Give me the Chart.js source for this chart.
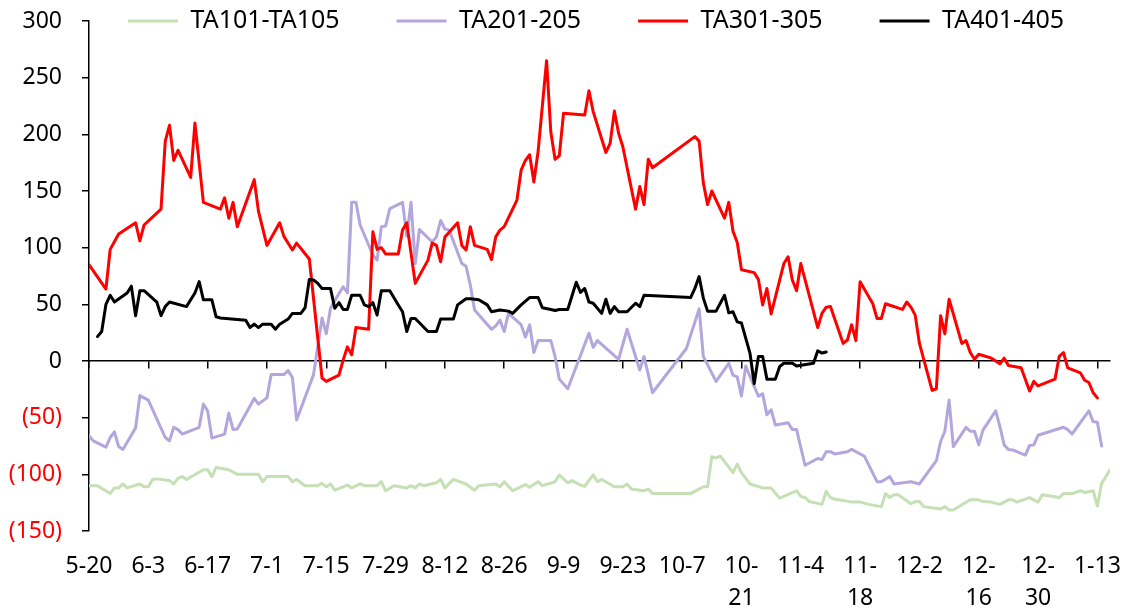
<!DOCTYPE html>
<html>
<head>
<meta charset="utf-8">
<script src="https://cdn.jsdelivr.net/npm/chart.js@4.4.1/dist/chart.umd.min.js"></script>
<style>
html,body{margin:0;padding:0;background:#ffffff;}
canvas{display:block;}
</style>
</head>
<body>
<canvas id="c" width="1141" height="608"></canvas>
<script>
// ---------- DATA (x = days after 5-20 on the seasonal axis) ----------
const xTickLabels = ['5-20','6-3','6-17','7-1','7-15','7-29','8-12','8-26','9-9','9-23','10-7','10-21','11-4','11-18','12-2','12-16','12-30','1-13'];
const tickStepDays = 14;
const lastDay = 241;

const seriesNames = ['TA101-TA105','TA201-205','TA301-305','TA401-405'];

const ta101Days = [0,2,5,6,7,8,9,12,13,14,15,16,19,20,21,22,23,27,28,29,30,33,35,40,41,42,47,48,49,51,54,55,56,57,58,61,62,64,65,68,69,70,72,75,76,77,78,79,82,83,84,86,89,91,92,96,97,98,100,103,104,106,107,110,111,113,114,116,117,119,120,121,124,126,127,128,131,132,133,142,145,146,147,148,149,152,153,154,156,159,161,163,167,168,169,170,173,174,175,176,178,180,182,184,187,188,189,190,191,194,195,196,197,201,202,203,204,208,210,211,213,215,217,218,219,222,224,225,229,230,232,234,235,237,238,239,241];
const ta101Vals = [-110,-110,-117,-112,-112,-108.5,-112,-108.5,-111,-111,-104.5,-104,-105.5,-108.5,-103.5,-102,-104.5,-96,-96,-102,-94,-96,-100,-100,-106.5,-102,-102,-106.5,-104.5,-110,-110,-108,-111,-108.5,-114,-109.5,-112,-108.5,-110,-110,-106.5,-114.5,-110,-112,-110,-112,-108.5,-110,-107.5,-104.5,-112,-104.5,-108.5,-114,-110,-108.5,-111,-106.5,-114.5,-109,-111.5,-106.5,-110,-106.5,-100.5,-107.5,-105.5,-109.5,-110.5,-100.5,-106.5,-104.5,-111,-111,-108.5,-113,-114.5,-113,-117,-117,-111,-111,-84.5,-85.5,-84,-98.5,-91,-98.5,-108.5,-112,-112,-121,-114.5,-119.5,-120.5,-124,-126.5,-115,-120.5,-122,-123,-124.5,-124.5,-126.5,-128.5,-117,-120.5,-118,-118,-126,-124,-124,-128.5,-130.5,-128.5,-131.5,-131.5,-122.5,-122.5,-124,-124.5,-126.5,-122.5,-122.5,-124.5,-120.5,-124.5,-118,-120.5,-117,-117,-114.5,-116,-114.5,-128,-108,-96];

const ta201Days = [0,1,4,5,6,7,8,11,12,14,18,19,20,21,22,26,27,28,29,32,33,34,35,39,40,42,43,46,47,48,49,53,55,56,57,59,60,61,62,63,64,67,68,69,70,71,74,75,76,77,78,81,82,83,84,85,88,89,90,91,95,96,97,98,99,102,103,104,105,106,109,110,111,113,118,119,120,125,127,130,131,133,141,144,145,148,151,152,153,154,155,157,158,159,160,161,162,165,166,167,169,172,173,174,175,176,179,180,183,186,187,189,190,194,196,200,201,202,203,204,207,208,209,210,211,214,215,216,217,218,221,222,223,224,230,231,232,236,237,238,239];
const ta201Vals = [-66,-70.5,-76,-67.5,-62.5,-75.5,-78,-59,-30.5,-34.5,-67.5,-70.5,-58.5,-60.5,-64.5,-58.5,-38,-44,-68,-64.5,-46,-60.5,-60,-33,-38,-32.5,-12,-12,-8.5,-14.5,-52,-12,38,24,46.5,59.5,65.5,60,140,140,120,93.5,89,118.5,119,134.5,140,110,140,86,116,105,109.5,124,116.5,115.5,86,83.5,67,45,28,31,36,26,42,32,21,32,7.5,18,18,4,-16,-24.5,24.5,12,18,1.5,28,-8,4,-28,11,46,4,-18,-2,-12.5,-14,-31,-4.5,-22.5,-31,-29,-47.5,-43,-56.5,-54.5,-60.5,-60.5,-92,-86,-87,-80,-80,-82,-80,-78,-84,-106.5,-106.5,-102,-108.5,-106.5,-108.5,-88,-71,-62,-34.5,-75.5,-58.5,-62,-62,-74,-61,-44,-58,-74,-78,-78.5,-83,-74.5,-74,-65.5,-58.5,-60.5,-64.5,-44,-53.5,-54,-75];

const ta301Days = [0,4,5,7,11,12,13,17,18,19,20,21,24,25,27,31,32,33,34,35,39,40,42,45,46,48,49,52,55,56,59,60,61,62,63,66,67,68,69,70,73,74,75,77,80,81,82,83,84,87,88,89,90,91,94,95,96,97,98,101,102,103,104,105,106,108,109,110,111,112,117,118,119,122,123,124,125,126,129,130,131,132,133,143,144,145,146,147,150,151,152,153,154,157,158,159,160,161,164,165,166,167,168,172,173,174,175,178,179,180,181,182,185,186,187,188,192,193,194,195,196,199,200,201,202,203,206,207,208,209,210,213,215,216,217,220,222,223,224,228,229,230,231,234,235,236,237,238];
const ta301Vals = [85,63.5,98.5,112,122,106,120,134,194,208,177,186,162,210,140,134,144,126,140,118.5,160,132,102,122,110,98,104,90,-15,-18,-12.5,1,12.5,5.5,29.5,28,114,98.5,100,94.5,94.5,115.5,122,68.5,89,104,102,87.5,109.5,122,102,98,118.5,102,98.5,89.5,109.5,115.5,118.5,142,168.5,177,182,158,185,265,202,178,181,218.5,217,238.5,220,184,192,220.5,201,189,134,154,138,178,170.5,198,194,157,138,150,126,140,114.5,104.5,80.5,78,72,49.5,64,41.5,86,92,71.5,62,86,29.5,42,47.5,48,15.5,18.5,32,18,70,50.5,37.5,37.5,50.5,45.5,52,47.5,40.5,15.5,-26,-24.5,40,24,54.5,15.5,18,7.5,1.5,6,2.5,-2.5,2.5,-4,-6,-26.5,-18,-22,-16,4,7.5,-6,-10.5,-17,-19,-28,-32.5];

const ta401Days = [2,3,4,5,6,9,10,11,12,13,16,17,18,19,23,25,26,27,29,30,31,37,38,39,40,41,43,44,45,47,48,50,51,52,53,54,55,57,58,59,60,61,62,64,65,66,67,68,69,71,73,74,75,76,77,80,82,83,86,87,89,90,92,94,95,97,99,100,102,104,106,107,109,110,111,113,115,116,117,118,119,121,122,123,124,125,127,129,130,131,142,143,144,145,146,148,150,151,152,153,154,156,157,158,159,160,162,163,164,166,167,171,172,173,174];
const ta401Vals = [21.5,26,50,58,52,60,66,40,62,62,52,40,48,52,48,60,70,54,54,39,38,36,29.5,32.5,29.5,32.5,32.5,28,32.5,37,42,42,47,72,71.5,68.5,64,64,46.5,51.5,45.5,45.5,58,58,49.5,48,51.5,40.5,62,62,49.5,43.5,26,37.5,37.5,26,26,37,37,49.5,55,55,54,49.5,43.5,45,44,42,49.5,56,56,47,45.5,44.5,45.5,45.5,69.5,60.5,64,52,51,42,54.5,42,48,43.5,43.5,51,48,58,56,64,74.5,55.5,44,44,58,42.5,43.5,34.5,33.5,7,-20,4,4,-16,-16,-5,-2,-2,-4.5,-2,9,7,8];

const yMin = -150, yMax = 300, yStep = 50;

// ---------- CHART ----------
const toPoints = (days, vals) => days.map((d, i) => ({ x: d, y: vals[i] }));

Chart.defaults.font.family = "'Noto Sans', 'Open Sans', sans-serif";
Chart.defaults.color = '#000000';

const TICK_FONT = 23;
const LEGEND_FONT = 25;
const LEGEND_PAD = 57;
const LEGEND_START_X = 128;

const xTicksFromLabels = (scale) => {
  scale.ticks = xTickLabels.map((_, i) => ({ value: i * tickStepDays }));
};

const legendOverlay = {
  id: 'legendOverlay',
  afterLayout(chart) {
    const lg = chart.legend;
    if (!lg) return;
    const centerY = chart.scales.y.getPixelForValue(yMax);
    const top = centerY - LEGEND_PAD - LEGEND_FONT / 2;
    lg.top = top;
    lg.bottom = top + LEGEND_PAD * 2 + LEGEND_FONT;
    lg.height = lg.bottom - lg.top;
    lg.left = LEGEND_START_X - LEGEND_PAD;
    lg.right = chart.width;
    lg.width = lg.right - lg.left;
  }
};

const mkSet = (label, days, vals, color, order) => ({
  label,
  data: toPoints(days, vals),
  borderColor: color,
  backgroundColor: color,
  borderWidth: 3,
  pointRadius: 0,
  pointHoverRadius: 0,
  tension: 0,
  fill: false,
  borderJoinStyle: 'round',
  borderCapStyle: 'round',
  xAxisID: 'x',
  yAxisID: 'y',
  order
});

new Chart(document.getElementById('c'), {
  type: 'line',
  data: {
    datasets: [
      mkSet(seriesNames[0], ta101Days, ta101Vals, '#c5e0b4', 3),
      mkSet(seriesNames[1], ta201Days, ta201Vals, '#b3a6dd', 2),
      mkSet(seriesNames[2], ta301Days, ta301Vals, '#ff0000', 1),
      mkSet(seriesNames[3], ta401Days, ta401Vals, '#000000', 0)
    ]
  },
  options: {
    responsive: false,
    animation: false,
    devicePixelRatio: 1,
    layout: { padding: { left: 0, right: 15, top: 21, bottom: 0 } },
    plugins: {
      tooltip: { enabled: false },
      legend: {
        display: true,
        position: 'top',
        align: 'start',
        maxHeight: 0.001,
        labels: {
          boxWidth: 50,
          boxHeight: 3,
          padding: LEGEND_PAD,
          color: '#000000',
          font: { size: LEGEND_FONT },
          sort: (a, b) => a.datasetIndex - b.datasetIndex,
          generateLabels: (chart) =>
            Chart.defaults.plugins.legend.labels.generateLabels(chart).map(l => ({ ...l, lineWidth: 0 }))
        }
      }
    },
    scales: {
      x: {
        type: 'linear',
        axis: 'x',
        position: 'bottom',
        min: 0,
        max: lastDay,
        afterBuildTicks: xTicksFromLabels,
        afterFit: (s) => { s.height = 77; },
        grid: { display: false, drawTicks: false, drawOnChartArea: false },
        border: { display: false },
        ticks: {
          autoSkip: false,
          maxRotation: 0,
          minRotation: 0,
          padding: 20,
          color: '#000000',
          font: { size: TICK_FONT, lineHeight: 1.38 },
          callback: (v) => {
            const lbl = xTickLabels[Math.round(v / tickStepDays)];
            if (!lbl) return '';
            if (lbl.length > 4) {
              const parts = lbl.split('-');
              return [parts[0] + '-', parts[1]];
            }
            return lbl;
          }
        }
      },
      x2: {
        type: 'linear',
        axis: 'x',
        position: { y: 0 },
        min: 0,
        max: lastDay,
        afterBuildTicks: xTicksFromLabels,
        grid: { display: true, drawOnChartArea: false, drawTicks: true, tickLength: 7, color: '#000000', lineWidth: 1.5 },
        border: { display: true, color: '#000000', width: 1.5 },
        ticks: { display: false }
      },
      y: {
        type: 'linear',
        position: 'left',
        min: yMin,
        max: yMax,
        afterFit: (s) => { s.width = 89; s.paddingTop = 0; s.paddingBottom = 0; },
        grid: { display: true, drawOnChartArea: false, drawTicks: true, tickLength: 7, color: '#000000', lineWidth: 1.5 },
        border: { display: true, color: '#000000', width: 1.5 },
        ticks: {
          stepSize: yStep,
          padding: 20,
          font: { size: TICK_FONT },
          color: (ctx) => (ctx.tick && ctx.tick.value < 0 ? '#ff0000' : '#000000'),
          callback: (v) => (v < 0 ? '(' + (-v) + ')' : String(v))
        }
      }
    }
  },
  plugins: [legendOverlay]
});
</script>
</body>
</html>
